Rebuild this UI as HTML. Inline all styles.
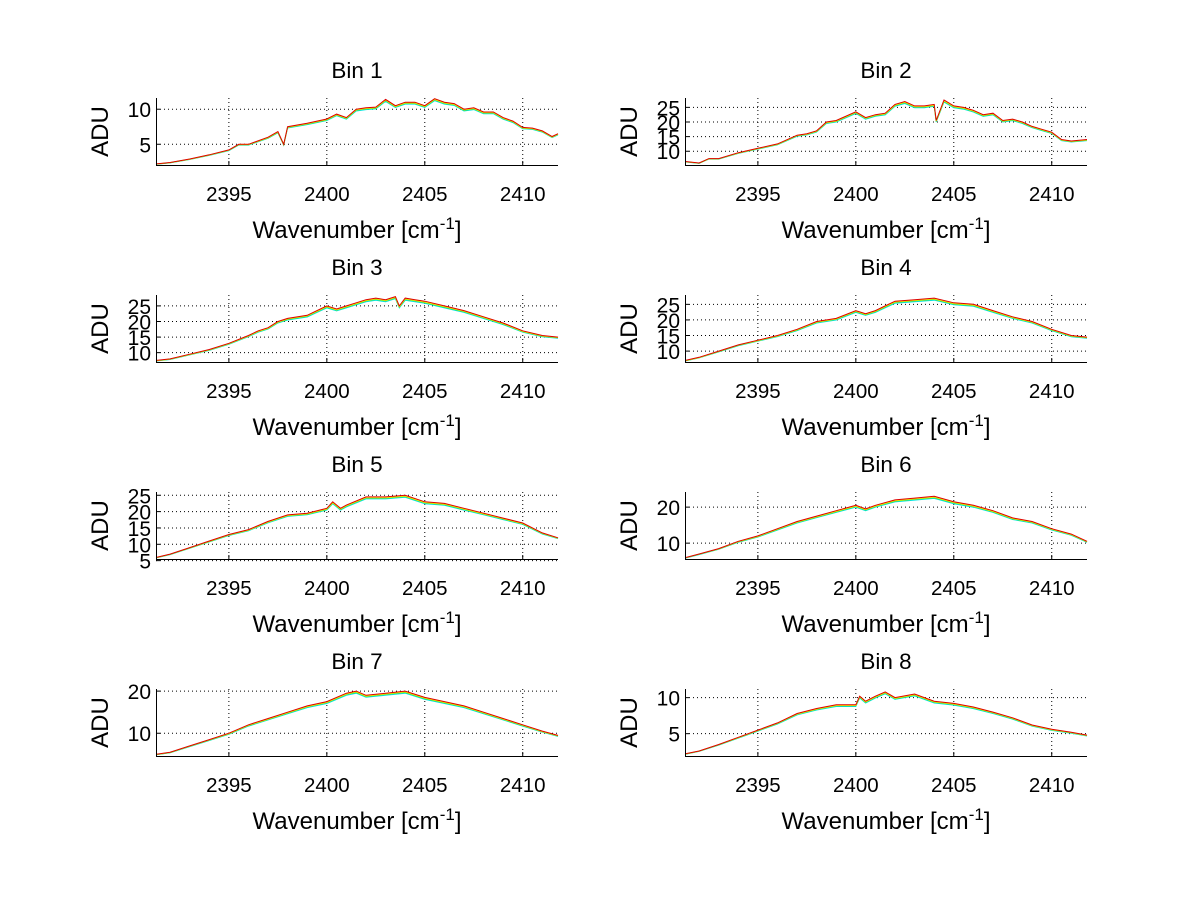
<!DOCTYPE html>
<html><head><meta charset="utf-8"><style>
html,body{margin:0;padding:0;background:#fff;}
svg{display:block;font-family:"Liberation Sans",sans-serif;}
</style></head><body>
<svg id="fig" width="1200" height="901" viewBox="0 0 1200 901"></svg>
<script>
const xTicks = [2395, 2400, 2405, 2410];
const xLimits = [2391.28, 2411.8];
const binTitles = ["Bin 1","Bin 2","Bin 3","Bin 4","Bin 5","Bin 6","Bin 7","Bin 8"];
const yLimits = [[2.04,11.6],[5.3,28.2],[7,28.5],[6.5,28],[5.5,26],[5.6,24.2],[4.6,20.5],[1.9,11.2]];
const yTicks = [[5,10],[10,15,20,25],[10,15,20,25],[10,15,20,25],[5,10,15,20,25],[10,20],[10,20],[5,10]];
const bin1X = [2391.3,2392,2393,2394,2395,2395.5,2396,2397,2397.5,2397.8,2398,2399,2400,2400.5,2401,2401.5,2402,2402.5,2403,2403.5,2404,2404.5,2405,2405.5,2406,2406.5,2407,2407.5,2408,2408.5,2409,2409.5,2410,2410.5,2411,2411.5,2411.8];
const bin1Y = [2.2,2.4,2.9,3.5,4.2,5.0,5.0,6.0,6.8,5.0,7.5,8.0,8.6,9.3,8.8,10.0,10.2,10.3,11.4,10.5,11.0,11.0,10.5,11.5,11.0,10.8,10.0,10.2,9.6,9.6,8.8,8.3,7.4,7.3,6.9,6.1,6.5];
const bin2X = [2391.3,2392,2392.5,2393,2394,2395,2396,2397,2397.5,2398,2398.5,2399,2400,2400.5,2401,2401.5,2402,2402.5,2403,2403.5,2404,2404.1,2404.5,2405,2405.5,2406,2406.5,2407,2407.5,2408,2408.5,2409,2409.5,2410,2410.5,2411,2411.8];
const bin2Y = [6.5,6,7.5,7.5,9.5,11,12.5,15.5,16,17,20,20.5,23.5,21.5,22.5,23,26,27,25.5,25.5,26,20.5,27.5,25.5,25,24,22.5,23,20.5,21,20,18.5,17.5,16.5,14,13.5,14];
const bin3X = [2391.3,2392,2393,2394,2395,2396,2396.5,2397,2397.5,2398,2399,2399.5,2400,2400.5,2401,2401.5,2402,2402.5,2403,2403.5,2403.7,2404,2404.5,2405,2406,2407,2408,2409,2410,2411,2411.8];
const bin3Y = [7.5,8,9.5,11,13,15.5,17,18,20,21,22,23.5,25,24,25,26,27,27.5,27,28,25,27.5,27,26.5,25,23.5,21.5,19.5,17,15.5,15];
const bin4X = [2391.3,2392,2393,2394,2395,2396,2397,2398,2399,2400,2400.5,2401,2402,2403,2404,2405,2406,2407,2408,2409,2410,2411,2411.8];
const bin4Y = [7,8,10,12,13.5,15,17,19.5,20.5,23,22,23,26,26.5,27,25.5,25,23,21,19.5,17,15,14.5];
const bin5X = [2391.3,2392,2393,2394,2395,2396,2397,2398,2399,2400,2400.3,2400.7,2401,2402,2403,2404,2405,2406,2407,2408,2409,2410,2411,2411.8];
const bin5Y = [6,7,9,11,13,14.5,17,19,19.5,21,23,21,22,24.5,24.5,25,23,22.5,21,19.5,18,16.5,13.5,12];
const bin6X = [2391.3,2392,2393,2394,2395,2396,2397,2398,2399,2400,2400.5,2401,2402,2403,2404,2405,2406,2407,2408,2409,2410,2411,2411.8];
const bin6Y = [6,7,8.5,10.5,12,14,16,17.5,19,20.5,19.5,20.5,22,22.5,23,21.5,20.5,19,17,16,14,12.5,10.5];
const bin7X = [2391.3,2392,2393,2394,2395,2396,2397,2398,2399,2400,2401,2401.5,2402,2403,2404,2405,2406,2407,2408,2409,2410,2411,2411.8];
const bin7Y = [5,5.5,7,8.5,10,12,13.5,15,16.5,17.5,19.5,20,19,19.5,20,18.5,17.5,16.5,15,13.5,12,10.5,9.5];
const bin8X = [2391.3,2392,2393,2394,2395,2396,2397,2398,2399,2400,2400.2,2400.5,2401,2401.5,2402,2403,2404,2405,2406,2407,2408,2409,2410,2411,2411.8];
const bin8Y = [2.2,2.6,3.5,4.5,5.5,6.5,7.8,8.5,9.0,9.0,10.2,9.5,10.2,10.8,10,10.5,9.5,9.2,8.7,8,7.2,6.2,5.6,5.2,4.8];
const seriesScale = [0.975, 0.985, 0.99, 1.0];
const seriesNames = ["series-cyan","series-green","series-yellow","series-red"];

const binsX=[bin1X,bin2X,bin3X,bin4X,bin5X,bin6X,bin7X,bin8X];
const binsY=[bin1Y,bin2Y,bin3Y,bin4Y,bin5Y,bin6Y,bin7Y,bin8Y];
const colors=["#00e5e5","#33dd33","#eeee00","#dd0000"];
const NS="http://www.w3.org/2000/svg";
const svg=document.getElementById('fig');
function mk(tag,attrs,parent,txt){const e=document.createElementNS(NS,tag);for(const k in attrs)e.setAttribute(k,attrs[k]);if(txt!==undefined)e.textContent=txt;parent.appendChild(e);return e;}
const colL=[156,685], W=402, rowT=[98,295,492,689], H=67;
for(let b=0;b<8;b++){
  const L=colL[b%2], T=rowT[Math.floor(b/2)], B=T+H, R=L+W;
  const g=mk('g',{},svg);
  
  
  const [y0,y1]=yLimits[b];
  const sx=v=>L+(v-xLimits[0])/(xLimits[1]-xLimits[0])*W;
  const sy=v=>B-(v-y0)/(y1-y0)*H;
  xTicks.forEach(t=>{const x=sx(t);const l=mk('line',{x1:x,x2:x,y1:T,y2:B,stroke:'#000','stroke-width':1,'stroke-dasharray':'1,3'},g);
    mk('line',{x1:x,x2:x,y1:B,y2:B-4,stroke:'#000'},g);
    const tx=mk('text',{x:x,y:B+36,'font-size':20.5,'text-anchor':'middle'},g,String(t));});
  yTicks[b].forEach(t=>{const y=sy(t);const l=mk('line',{x1:L,x2:R,y1:y,y2:y,stroke:'#000','stroke-width':1,'stroke-dasharray':'1,3'},g);
    mk('line',{x1:L,x2:L+4,y1:y,y2:y,stroke:'#000'},g);
    const tx=mk('text',{x:L-5,y:y+8,'font-size':21,'text-anchor':'end'},g,String(t));});
  for(let s=0;s<4;s++){
    const pts=binsX[b].map((xv,i)=>sx(xv).toFixed(1)+','+sy(binsY[b][i]*seriesScale[s]).toFixed(1)).join(' ');
    const p=mk('polyline',{points:pts,fill:'none',stroke:colors[s],'stroke-width':1},g);
    
    
  }
  const ax=mk('path',{d:`M${L+0.5},${T} V${B+0.5} H${R}`,fill:'none',stroke:'#000','stroke-width':1},g);
  
  const ti=mk('text',{x:L+W/2,y:T-20,'font-size':22.5,'text-anchor':'middle'},g,binTitles[b]);
  
  const xl=mk('text',{x:L+W/2,y:B+73,'font-size':24,'text-anchor':'middle'},g);
  
  xl.innerHTML='Wavenumber [cm<tspan dy="-9" font-size="17">-1</tspan><tspan dy="9">]</tspan>';
  const yl=mk('text',{x:0,y:0,'font-size':24,'text-anchor':'middle',transform:`translate(${L-48},${T+H/2}) rotate(-90)`},g,'ADU');
  
}
</script>
</body></html>
